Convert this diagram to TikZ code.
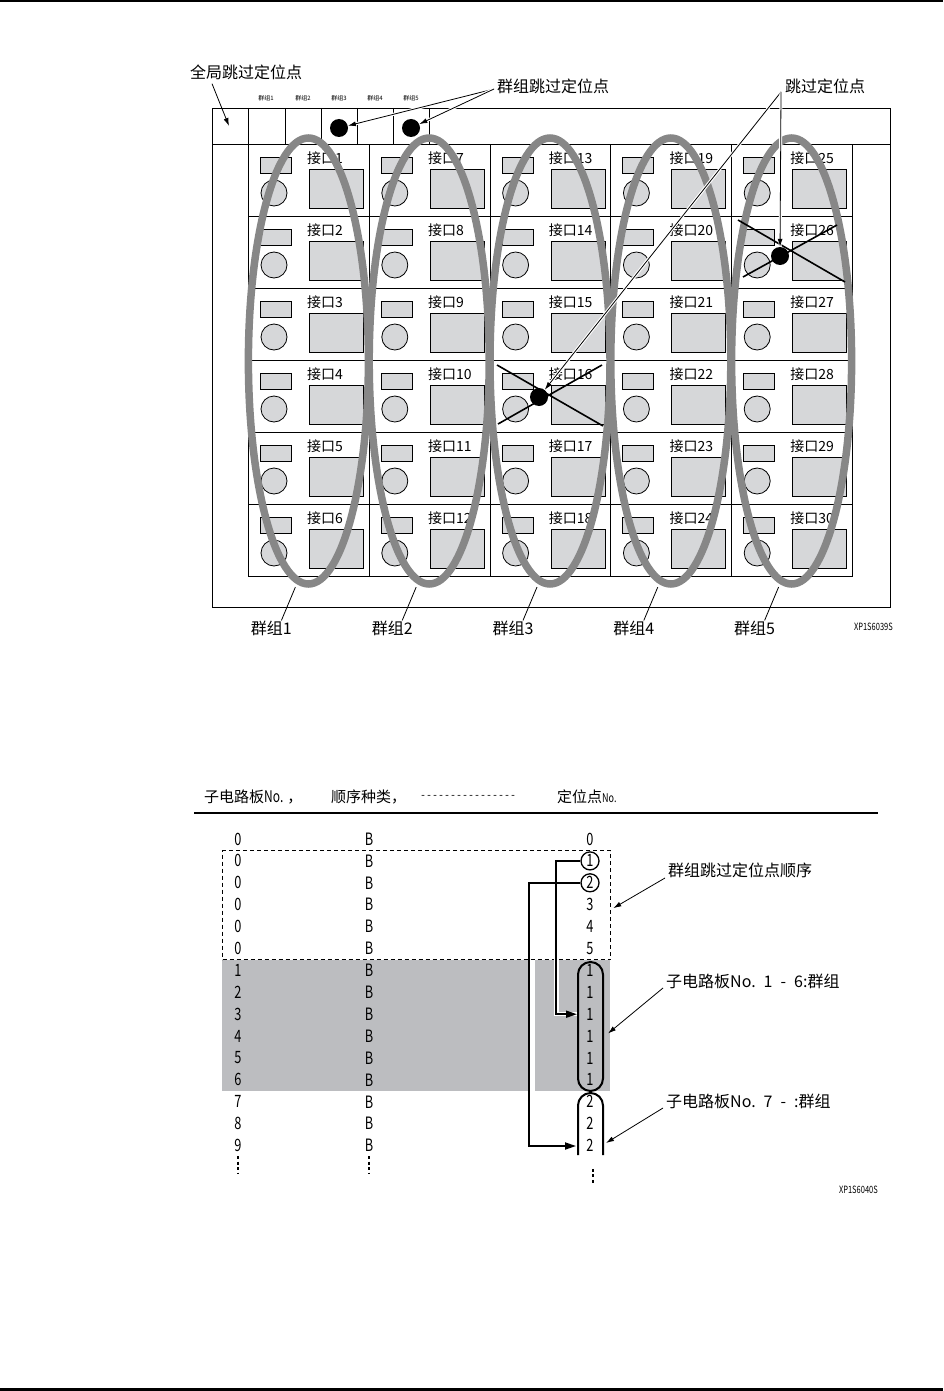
\documentclass[tikz,border=0pt]{standalone}
\usepackage{fontspec}
\setmainfont{Noto Sans CJK SC}
\newfontfamily\condfont[FakeStretch=0.75]{Noto Sans CJK SC}
\newfontfamily\dashfont{Liberation Mono}
\usepackage{xcolor}
\usepackage{tikz}
\usetikzlibrary{arrows.meta,positioning,shapes.geometric}

\definecolor{loopgray}{RGB}{135,135,135}
\definecolor{partgray}{RGB}{214,215,217}
\definecolor{shadegray}{RGB}{188,189,192}

\begin{document}
\begin{tikzpicture}[x=1pt, y=-1pt,
  portbox/.style={draw, line width=0.8pt, minimum width=120.8pt,
    minimum height=72pt, inner sep=0pt, anchor=north west},
  lamp/.style={draw, fill=partgray, line width=0.8pt, inner sep=0pt},
  looprng/.style={draw=loopgray, line width=7.5pt, ellipse, inner sep=0pt,
    minimum width=120pt, minimum height=446pt},
  hitdot/.style={circle, fill=black, inner sep=0pt, minimum size=18pt},
  cross/.style={line width=1.6pt},
  arr/.style={-{Latex[length=8pt,width=5pt]}, line width=0.8pt},
  halo/.style={arr, preaction={draw, white, line width=3pt, -}},
  jump/.style={-{Triangle[length=11pt,width=7pt]}, line width=1.8pt},
  lbl/.style={font=\fontsize{16}{18}\selectfont, inner sep=0pt},
  hdr/.style={font=\fontsize{15}{17}\selectfont, inner sep=0pt, anchor=west},
  portlbl/.style={font=\fontsize{14}{16}\selectfont, inner sep=0pt, anchor=west},
  tinylbl/.style={font=\fontsize{6}{7}\selectfont, inner sep=0pt},
  figid/.style={font=\condfont\fontsize{10}{12}\selectfont, inner sep=0pt, anchor=east},
  cnum/.style={font=\condfont\fontsize{17}{18}\selectfont, inner sep=0pt},
  dots/.style={line width=1.6pt, dash pattern=on 3pt off 2.5pt}
]
  \useasboundingbox (0,0) rectangle (943,1391);

  % Page rules
  \draw[line width=2.5pt] (0,1.2) -- (943,1.2);
  \draw[line width=2.5pt] (0,1389.5) -- (943,1389.5);

  % Frame and top row
  \draw[line width=0.8pt] (212,108) rectangle (890,607);
  \draw[line width=0.8pt] (212,144) -- (890,144);
  \foreach \x in {248,285,321,357,393,429} \draw[line width=0.8pt] (\x,108) -- (\x,144);
  \foreach \x/\k in {266/1,303/2,339/3,375/4,411/5}
    \node[tinylbl] (gtag\k) at (\x,98) {群组\k};

  % Ports
  \foreach \c in {1,...,5} {
    \foreach \r in {1,...,6} {
      \pgfmathtruncatemacro\n{(\c-1)*6+\r}
      \node[portbox] (port\n) at ({248+(\c-1)*120.8},{144+(\r-1)*72}) {};
      \node[lamp, minimum width=31pt, minimum height=16pt, anchor=north west]
        (lamp\n) at ([xshift=12pt,yshift=-13pt]port\n.north west) {};
      \node[lamp, circle, minimum size=26pt]
        (knob\n) at ([xshift=26pt,yshift=-49pt]port\n.north west) {};
      \node[lamp, minimum width=54pt, minimum height=39pt, anchor=north west]
        (panel\n) at ([xshift=61pt,yshift=-25pt]port\n.north west) {};
      \node[portlbl] (tag\n) at ([xshift=59pt,yshift=-14pt]port\n.north west) {接口\n};
    }
  }

  % Groups
  \foreach \c in {1,...,5} {
    \node[looprng] (grp\c) at ({308.4+(\c-1)*120.8},361) {};
    \node[lbl] (glabel\c) at ({271.4+(\c-1)*120.8},628) {群组\c};
    \draw[line width=0.8pt, shorten >=3.5pt] ([xshift=10pt]glabel\c.north) -- (grp\c.267);
  }

  % Skipped points
  \draw[cross] (497,365) -- (603,426);
  \draw[cross] (498,424) -- (602,365);
  \draw[cross] (738,220) -- (845,282);
  \draw[cross] (743,277) -- (837,225);
  \node[hitdot] (gdot3) at (339,128) {};
  \node[hitdot] (gdot5) at (411,128) {};
  \node[hitdot] (dot16) at (539,397) {};
  \node[hitdot] (dot26) at (780,256) {};

  % Callouts
  \node[lbl, anchor=west] (globalskip) at (190,72) {全局跳过定位点};
  \coordinate (globalpt) at (229,126);
  \draw[arr] ([xshift=22pt,yshift=-4pt]globalskip.south west) -- (globalpt);
  \node[lbl, anchor=west] (groupskip) at (497,86) {群组跳过定位点};
  \draw[halo] ([xshift=-3pt,yshift=-3pt]groupskip.west) -- (gdot3);
  \draw[halo] ([xshift=-3pt,yshift=-3pt]groupskip.west) -- (gdot5);
  \node[lbl, anchor=west] (skip) at (785,86) {跳过定位点};
  \draw[halo] ([xshift=-4pt,yshift=-6pt]skip.west) -- (dot16);
  \draw[halo] ([xshift=-4pt,yshift=-6pt]skip.west) -- (dot26);
  \node[figid] (fig1) at (893,627) {XP1S6039S};

  % Header
  \node[hdr] (colboard) at (204,797) {子电路板{\condfont\fontsize{16}{17}\selectfont No.}\hspace{4pt}，};
  \node[hdr] (colkind) at (331,797) {顺序种类，};
  \node[anchor=west, inner sep=0pt, font=\dashfont\fontsize{10}{12}\selectfont] (coldash) at (420,797) {----------------};
  \node[hdr] (colpos) at (557,797) {定位点{\condfont\fontsize{12}{14}\selectfont No.}};
  \draw[line width=2pt] (194,813) -- (878,813);

  % Sequence table
  \fill[shadegray] (222,960) rectangle (528,1091);
  \fill[shadegray] (535,960) rectangle (610,1091);
  \node[draw, dashed, line width=1.3pt, dash pattern=on 4pt off 3pt, inner sep=0pt,
    minimum width=388pt, minimum height=109pt, anchor=north west] (skipbox) at (222,850) {};
  \foreach \a [count=\k from 0] in {0,0,0,0,0,0,1,2,3,4,5,6,7,8,9} {
    \node[cnum] (board\k) at (238,{839+21.9*\k}) {\a};
    \node[cnum] (kind\k) at (369,{839+21.9*\k}) {B};
  }
  \foreach \k/\p in {0/0,3/3,4/4,5/5,6/1,7/1,8/1,9/1,10/1,11/1,12/2,13/2,14/2}
    \node[cnum] (pos\k) at (590,{839+21.9*\k}) {\p};
  \node[cnum, circle, draw, line width=1.3pt, inner sep=0pt, minimum size=18pt] (pos1) at (590,860.9) {1};
  \node[cnum, circle, draw, line width=1.3pt, inner sep=0pt, minimum size=18pt] (pos2) at (590,882.8) {2};
  \draw[dots] ([yshift=-4pt]board14.south) -- ++(0,18);
  \draw[dots] ([yshift=-4pt]kind14.south) -- ++(0,18);
  \draw[dots] ([xshift=3pt,yshift=-17pt]pos14.south) -- ++(0,16);

  % Group frames
  \node[draw, line width=2pt, rounded corners=12.5pt, minimum width=25pt,
    minimum height=129pt, inner sep=0pt] (grpone) at (590.5,1026.5) {};
  \draw[line width=2pt, rounded corners=12.5pt] (578,1155) -- (578,1093) -- (603,1093) -- (603,1155);
  \coordinate (hit1) at (577,1014.2);
  \coordinate (hit2) at (576,1146);
  \draw[jump, preaction={draw, white, line width=4.5pt, -}] (pos1.west) -- ++(-24,0) |- (hit1);
  \draw[jump] (pos2.west) -- ++(-51,0) |- (hit2);

  % Notes
  \node[lbl, anchor=west] (skiporder) at (668,870) {群组跳过定位点顺序};
  \draw[arr] ([xshift=-3pt,yshift=-8pt]skiporder.west) -- ([xshift=2pt,yshift=-3pt]skipbox.east);
  \node[lbl, anchor=west] (boardone) at (666,981) {子电路板No.\enspace 1\enspace -\enspace 6:群组};
  \draw[arr] ([xshift=-3pt,yshift=-7pt]boardone.west) -- ([xshift=4pt,yshift=-7pt]grpone.east);
  \node[lbl, anchor=west] (boardtwo) at (666,1101) {子电路板No.\enspace 7\enspace -\enspace :群组};
  \coordinate (grptwo) at (606,1143);
  \draw[arr] ([xshift=-3pt,yshift=-7pt]boardtwo.west) -- (grptwo);
  \node[figid] (fig2) at (878,1190) {XP1S6040S};
\end{tikzpicture}
\end{document}
